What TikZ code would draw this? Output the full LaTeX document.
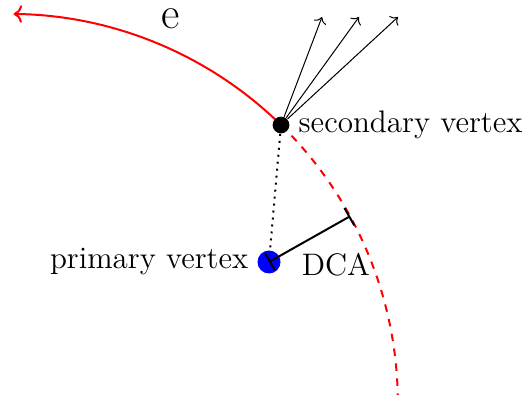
\documentclass[tikz,border=0pt]{standalone}
\usetikzlibrary{calc,arrows.meta,positioning}
\begin{document}
\begin{tikzpicture}[x=0.4pt,y=0.4pt,every node/.style={font=\fontsize{12.45}{15}\selectfont},
  vtx/.style={circle,inner sep=0pt}]
  \useasboundingbox (0,0) rectangle (524,398);
  \coordinate (c) at (9,-5);
  \coordinate (svpos) at (281,273);
  \coordinate (dca) at ($(c)+(28.7:155.6pt)$);
  % electron track
  \draw[red,thick,->] (svpos) arc[start angle=45.6,end angle=89.3,radius=155.6pt];
  \draw[red,thick,dashed] (svpos) arc[start angle=45.6,end angle=1.2,radius=155.6pt];
  \node[vtx,fill=black,minimum size=6.7pt] (sv) at (svpos) {};
  \node[vtx,fill=blue,minimum size=9.2pt] (pv) at (269,136) {};
  \coordinate (t1) at (322,381);
  \coordinate (t2) at (359,381);
  \coordinate (t3) at (398,381);
  \draw[->] (sv) -- (t1); \draw[->] (sv) -- (t2); \draw[->] (sv) -- (t3);
  \draw[thick,dotted] (sv) -- (pv);
  \draw[thick,{Bar[width=8pt]}-{Bar[width=8pt]}] (pv.center) -- (dca);
  \node[right=0pt of sv] (svl) {secondary vertex};
  \node[left=0pt of pv] (pvl) {primary vertex};
  \node (dcal) at (336,133) {DCA};
  \node[font=\fontsize{18}{20}\selectfont,anchor=base,inner sep=0pt] (e) at (171,369) {e};
\end{tikzpicture}
\end{document}
